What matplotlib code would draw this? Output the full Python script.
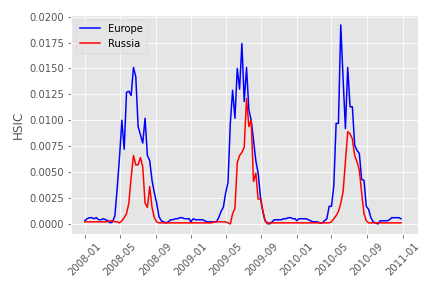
import numpy as np
import pandas as pd
import matplotlib
matplotlib.use('Agg')
import matplotlib.pyplot as plt
import matplotlib.dates as mdates

plt.style.use('ggplot')

# 8-day composites, 46 per year
years = [2008, 2009, 2010]
dates = []
for yr in years:
    dates += list(pd.Timestamp(yr, 1, 1) + pd.to_timedelta(8 * np.arange(46), 'D'))

europe_2008 = [0.0003, 0.0005, 0.0006, 0.0006, 0.0005, 0.0006, 0.0004, 0.0004, 0.0005, 0.0004,
               0.0003, 0.0001, 0.0002, 0.0008, 0.0035, 0.0065, 0.0100, 0.0072, 0.0127, 0.0128,
               0.0124, 0.0151, 0.0142, 0.0094, 0.0086, 0.0078, 0.0102, 0.0066, 0.0061, 0.0042,
               0.0030, 0.0020, 0.0007, 0.0003, 0.0002, 0.0001, 0.0002, 0.0004, 0.0004, 0.0005,
               0.0005, 0.0006, 0.0006, 0.0005, 0.0005, 0.0005]
europe_2009 = [0.0002, 0.0005, 0.0004, 0.0004, 0.0004, 0.0004, 0.0003, 0.0002, 0.0002, 0.0002,
               0.0002, 0.0002, 0.0006, 0.0012, 0.0016, 0.0030, 0.0040, 0.0097, 0.0129, 0.0102,
               0.0150, 0.0130, 0.0174, 0.0118, 0.0151, 0.0110, 0.0100, 0.0081, 0.0061, 0.0049,
               0.0026, 0.0012, 0.0003, 0.0001, 0.0000, 0.0002, 0.0004, 0.0004, 0.0004, 0.0004,
               0.0005, 0.0005, 0.0006, 0.0006, 0.0005, 0.0005]
europe_2010 = [0.0003, 0.0005, 0.0005, 0.0005, 0.0005, 0.0004, 0.0003, 0.0002, 0.0002, 0.0002,
               0.0001, 0.0001, 0.0003, 0.0005, 0.0017, 0.0017, 0.0037, 0.0097, 0.0097, 0.0192,
               0.0140, 0.0092, 0.0151, 0.0113, 0.0113, 0.0076, 0.0071, 0.0068, 0.0043, 0.0042,
               0.0017, 0.0014, 0.0006, 0.0002, 0.0001, 0.0000, 0.0003, 0.0003, 0.0003, 0.0003,
               0.0004, 0.0006, 0.0006, 0.0006, 0.0006, 0.0005]

russia_2008 = [0.0002, 0.0002, 0.0002, 0.0002, 0.0002, 0.0002, 0.0002, 0.0002, 0.0002, 0.0002,
               0.0002, 0.0003, 0.0003, 0.0002, 0.0002, 0.0001, 0.0003, 0.0006, 0.0010, 0.0020,
               0.0045, 0.0066, 0.0057, 0.0057, 0.0064, 0.0055, 0.0020, 0.0016, 0.0036, 0.0016,
               0.0006, 0.0002, 0.0001, 0.0001, 0.0001, 0.0001, 0.0001, 0.0001, 0.0001, 0.0001,
               0.0001, 0.0001, 0.0001, 0.0001, 0.0001, 0.0001]
russia_2009 = [0.0001, 0.0001, 0.0001, 0.0001, 0.0001, 0.0001, 0.0001, 0.0001, 0.0001, 0.0001,
               0.0002, 0.0002, 0.0002, 0.0002, 0.0002, 0.0002, 0.0001, 0.0000, 0.0010, 0.0015,
               0.0059, 0.0066, 0.0069, 0.0074, 0.0121, 0.0094, 0.0100, 0.0041, 0.0049, 0.0024,
               0.0024, 0.0013, 0.0003, 0.0000, 0.0001, 0.0001, 0.0001, 0.0001, 0.0001, 0.0001,
               0.0001, 0.0001, 0.0001, 0.0001, 0.0001, 0.0001]
russia_2010 = [0.0001, 0.0001, 0.0001, 0.0001, 0.0001, 0.0001, 0.0001, 0.0001, 0.0001, 0.0001,
               0.0001, 0.0001, 0.0001, 0.0001, 0.0001, 0.0002, 0.0005, 0.0008, 0.0012, 0.0020,
               0.0031, 0.0060, 0.0089, 0.0087, 0.0082, 0.0066, 0.0060, 0.0052, 0.0030, 0.0010,
               0.0003, 0.0001, 0.0001, 0.0001, 0.0001, 0.0001, 0.0001, 0.0001, 0.0001, 0.0001,
               0.0001, 0.0001, 0.0001, 0.0001, 0.0001, 0.0001]

europe = europe_2008 + europe_2009 + europe_2010
russia = russia_2008 + russia_2009 + russia_2010

fig, ax = plt.subplots(figsize=(6, 4), dpi=72)
ax.plot(dates, europe, color='b', label='Europe')
ax.plot(dates, russia, color='r', label='Russia')

ax.set_ylabel('HSIC')
ax.set_yticks(np.arange(0, 0.02001, 0.0025))
ax.yaxis.set_major_formatter(matplotlib.ticker.FormatStrFormatter('%.4f'))
ax.xaxis.set_major_locator(mdates.MonthLocator(bymonth=[1, 5, 9]))
ax.xaxis.set_major_formatter(mdates.DateFormatter('%Y-%m'))
ax.set_xlim(pd.Timestamp(2007, 11, 14), pd.Timestamp(2011, 2, 24))
plt.setp(ax.get_xticklabels(), rotation=45)
ax.legend(loc='upper left')

plt.subplots_adjust(left=0.164, right=0.968, top=0.948, bottom=0.188)
plt.savefig('out.png')
